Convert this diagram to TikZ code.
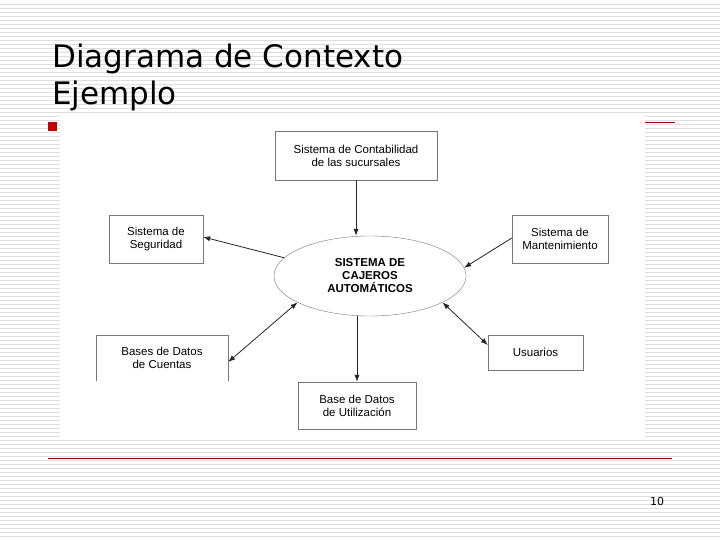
\documentclass[tikz,border=0pt]{standalone}
\usepackage{fontspec}
\setmainfont{Liberation Sans}
\newfontfamily\titlefont{DejaVu Sans}
\usetikzlibrary{shapes.geometric, arrows.meta, positioning}
\definecolor{stripe}{RGB}{222,222,222}
\definecolor{slidered}{RGB}{192,0,0}
\definecolor{boxline}{RGB}{120,120,120}
\tikzset{
  entity/.style = {rectangle, draw=boxline, fill=white, align=center, font=\fontsize{11.5}{13}\selectfont, inner sep=0pt},
  process/.style = {ellipse, draw=boxline, fill=white, align=center, font=\bfseries\fontsize{11.5}{13}\selectfont, minimum width=192pt, minimum height=80pt},
  flow/.style = {thick, -{Latex[length=7pt]}, black!85},
  biflow/.style = {thick, {Latex[length=7pt]}-{Latex[length=7pt]}, black!85}
}
\begin{document}
\begin{tikzpicture}[x=1pt, y=-1pt]
  \useasboundingbox (0,0) rectangle (720,540);
  % slide background
  \fill[white] (0,0) rectangle (720,540);
  \foreach \k in {1,...,134} {
    \draw[stripe, line width=0.8pt] (0,\k*4) -- (720,\k*4);
  }
  \node[anchor=base west, font=\titlefont\fontsize{31}{34}\selectfont, inner sep=0pt] (title) at (52,68) {Diagrama de Contexto};
  \node[anchor=base west, font=\titlefont\fontsize{31}{34}\selectfont, inner sep=0pt] (subtitle) at (52,105) {Ejemplo};
  \fill[slidered] (48,122) rectangle (57,131);
  \draw[slidered!80!black, line width=1pt] (645,123) -- (675,123);
  \fill[white] (60,113) rectangle (645,437);
  \draw[slidered!70!black, line width=1pt] (48,458) -- (672,458);
  \node[font=\titlefont\fontsize{11}{12}\selectfont] (page) at (657,501) {10};
  % context diagram
  \node (atm) [process] at (370,276) {SISTEMA DE\\CAJEROS\\AUTOMÁTICOS};
  \node (conta) [entity, minimum width=162pt, minimum height=49pt] at (356,155.5) {Sistema de Contabilidad\\de las sucursales};
  \node (segur) [entity, minimum width=94pt, minimum height=48pt] at (156,239) {Sistema de\\Seguridad};
  \node (mant) [entity, minimum width=96pt, minimum height=48pt] at (560,239) {Sistema de\\Mantenimiento};
  \node (cuentas) [entity, draw=none, fill=none, minimum width=132pt, minimum height=46pt] at (162,358) {Bases de Datos\\de Cuentas};
  \draw[boxline] (cuentas.south west) -- (cuentas.north west) -- (cuentas.north east) -- (cuentas.south east);
  \node (usuarios) [entity, minimum width=95pt, minimum height=35pt] at (535.5,352.5) {Usuarios};
  \node (utiliz) [entity, minimum width=118pt, minimum height=47pt] at (357,405.5) {Base de Datos\\de Utilización};
  % flows
  \draw [flow] (conta) -- (conta |- atm.north);
  \draw [flow] (atm.168) -- (segur.east |- 0,237);
  \draw [flow] (mant.west |- 0,238) -- (atm.5);
  \draw [biflow] (cuentas.east |- 0,362) -- (atm.200);
  \draw [biflow] (usuarios.west |- 0,345) -- (atm.-20);
  \draw [flow] (utiliz.north |- atm.south) -- (utiliz);
\end{tikzpicture}
\end{document}
